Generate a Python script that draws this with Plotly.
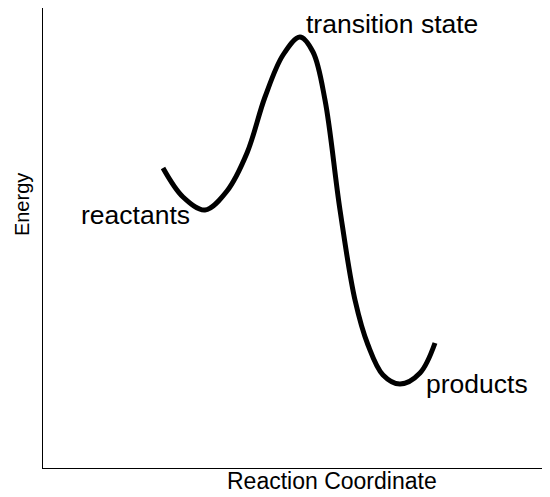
import plotly.graph_objects as go

# Reaction coordinate profile (arbitrary units)
coord = [120, 140, 162, 184, 204, 222, 240, 257, 270, 282, 297, 312, 325, 340, 357, 377, 392]
energy = [300, 271, 258, 277, 315, 371, 413, 431, 416, 368, 258, 168, 123, 93, 84, 95, 125]

labels = ["reactants", "transition state", "products"]
label_coord = [148, 262, 382]
label_energy = [253, 460, 84]

fig = go.Figure()
fig.add_trace(go.Scatter(
    x=coord, y=energy, mode="lines",
    line=dict(color="black", width=5, shape="spline", smoothing=1.0),
    hoverinfo="skip", showlegend=False,
))

family = "Liberation Sans, Arial, sans-serif"
font = dict(family=family, size=26.5, color="black")

anchors = [("right", "middle"), ("left", "top"), ("left", "middle")]
for t, xv, yv, (xa, ya) in zip(labels, label_coord, label_energy, anchors):
    fig.add_annotation(x=xv, y=yv, text=t, showarrow=False, xanchor=xa, yanchor=ya,
                       borderpad=0, font=font)

fig.add_annotation(xref="paper", yref="paper", x=-0.041, y=0.572, text="Energy", textangle=-90,
                   showarrow=False, xanchor="center", yanchor="middle",
                   font=dict(family=family, size=20, color="black"))
fig.add_annotation(xref="paper", yref="paper", x=0.571, y=-0.028, text="Reaction Coordinate",
                   showarrow=False, xanchor="center", yanchor="middle",
                   font=dict(family=family, size=23, color="black"))

fig.update_layout(
    width=542, height=489,
    margin=dict(l=35, r=0, t=0, b=29),
    paper_bgcolor="white", plot_bgcolor="white",
    xaxis=dict(range=[0, 507], showgrid=False, zeroline=False, showticklabels=False, ticks="",
               showline=True, linecolor="black", linewidth=1),
    yaxis=dict(range=[0, 460], showgrid=False, zeroline=False, showticklabels=False, ticks="",
               showline=True, linecolor="black", linewidth=1),
)

fig.write_html("out.html")
